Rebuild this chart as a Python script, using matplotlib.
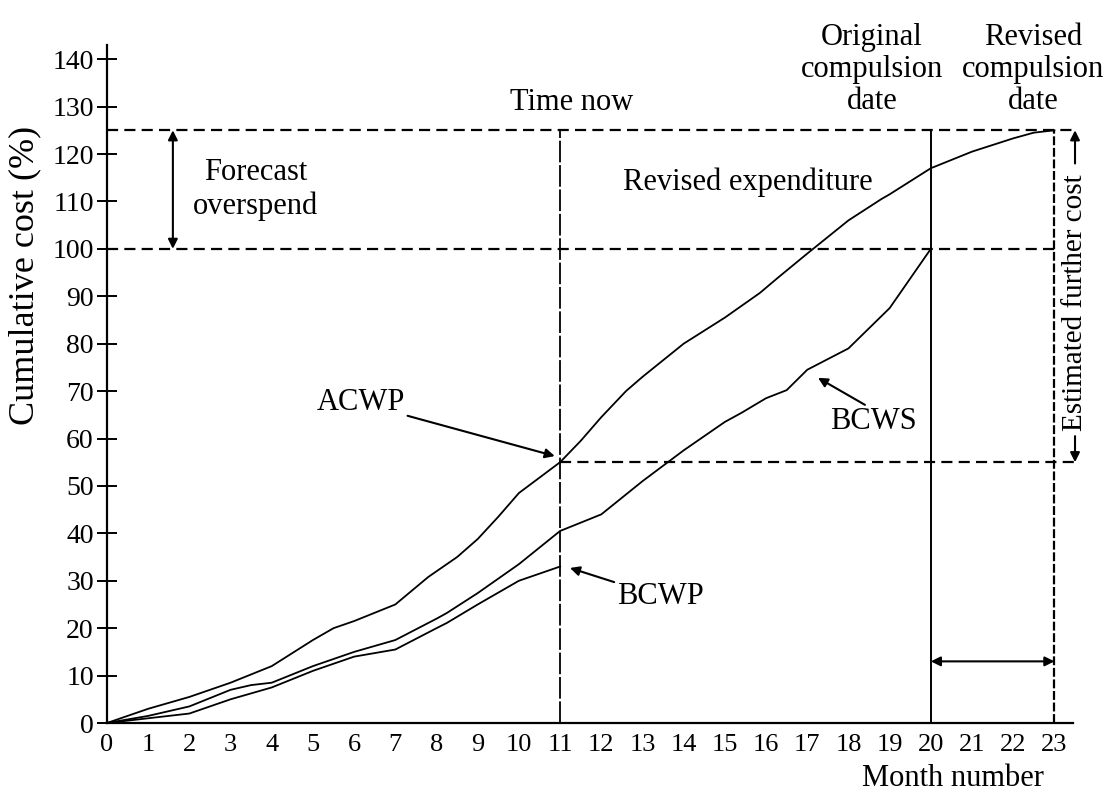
import numpy as np
import matplotlib.pyplot as plt

plt.rcParams['font.family'] = ['Liberation Serif', 'DejaVu Serif']

# cumulative cost curves, % of budget, by month
acwp_month = [0, 1, 2, 3, 4, 5, 5.5, 6, 7, 7.8, 8.5, 9, 9.5, 10, 11]
acwp_cost = [0, 3, 5.5, 8.5, 12, 17.5, 20, 21.5, 25, 30.8, 35, 38.8, 43.5, 48.5, 55]

revised_month = [11, 11.5, 12, 12.6, 13, 14, 15, 15.85, 16.3, 17, 18, 18.8, 19, 20, 21, 22, 22.5, 23]
revised_cost = [55, 59.5, 64.5, 70, 73, 80, 85.5, 90.7, 94, 99, 106, 110.5, 111.5, 117, 120.5, 123.3, 124.5, 125]

bcws_month = [0, 1, 2, 3, 3.5, 4, 5, 6, 7, 8, 8.25, 9, 10, 11, 12, 13, 14, 15, 15.4, 16, 16.5, 17, 18, 19, 20]
bcws_cost = [0, 1.5, 3.5, 7, 8, 8.5, 12, 15, 17.5, 22, 23.2, 27.4, 33.5, 40.5, 44, 51, 57.5, 63.5, 65.4, 68.5, 70.2, 74.5, 79, 87.5, 100]

bcwp_month = [0, 1, 2, 3, 4, 5, 6, 7, 8, 8.25, 9, 10, 11]
bcwp_cost = [0, 1, 2, 5, 7.5, 11, 14, 15.5, 20, 21.1, 25, 30, 33]

time_now = 11
original_end = 20
revised_end = 23
budget = 100
forecast_total = 125
spent_now = 55

fig = plt.figure(figsize=(11.2, 7.94), dpi=100)
ax = fig.add_axes([0.0955, 0.0894, 0.8625, 0.854])
ax.set_xlim(0, 23.45)
ax.set_ylim(0, 143)

for side in ('top', 'right'):
    ax.spines[side].set_visible(False)
for side in ('left', 'bottom'):
    ax.spines[side].set_linewidth(1.6)

ax.set_xticks(range(0, 24))
ax.set_yticks(range(0, 141, 10))
ax.tick_params(axis='x', length=0, labelsize=19, pad=8)
ax.tick_params(axis='y', direction='inout', length=15, width=1.4,
               labelsize=20, pad=2)

line_kw = dict(color='k', lw=1.3)
ax.plot(acwp_month, acwp_cost, **line_kw)
ax.plot(revised_month, revised_cost, **line_kw)
ax.plot(bcws_month, bcws_cost, **line_kw)
ax.plot(bcwp_month, bcwp_cost, **line_kw)

# reference lines
dash = dict(color='k', lw=1.6, linestyle=(0, (5, 2.8)))
ax.plot([0, 23.5], [forecast_total, forecast_total], clip_on=False, **dash)
ax.plot([0, revised_end], [budget, budget], **dash)
ax.plot([time_now, 23.5], [spent_now, spent_now], clip_on=False, **dash)

ax.plot([time_now, time_now], [0, forecast_total], color='k', lw=1.3,
        linestyle=(0, (12, 1.5)))
ax.plot([original_end, original_end], [0, forecast_total], color='k', lw=1.4)
ax.plot([revised_end, revised_end], [0, forecast_total], color='k', lw=1.6,
        linestyle=(0, (4, 1.2)))

arrow = dict(arrowstyle='-|>', color='k', lw=1.5, mutation_scale=14,
             shrinkA=0, shrinkB=0)
both = dict(arrowstyle='<|-|>', color='k', lw=1.5, mutation_scale=14,
            shrinkA=0, shrinkB=0)

# forecast overspend
ax.annotate('', xy=(1.6, forecast_total), xytext=(1.6, budget), arrowprops=both)
ax.text(3.6, 112.5, 'Forecast\noverspend', ha='center', va='center',
        fontsize=22, linespacing=1.2)

# extra months needed
ax.annotate('', xy=(original_end, 13), xytext=(revised_end, 13), arrowprops=both)

# estimated further cost, right-hand side
ax.annotate('', xy=(23.5, forecast_total), xytext=(23.5, 118),
            arrowprops=arrow, annotation_clip=False)
ax.annotate('', xy=(23.5, spent_now), xytext=(23.5, 60.5),
            arrowprops=arrow, annotation_clip=False)
ax.text(23.5, 88.6, 'Estimated further cost', rotation=90, ha='center',
        va='center', fontsize=21, clip_on=False)

ax.text(11.29, 130.8, 'Time now', ha='center', va='center', fontsize=22)
ax.text(15.56, 114, 'Revised expenditure', ha='center', va='center', fontsize=22)
ax.text(18.57, 137.8, 'Original\ncompulsion\ndate', ha='center', va='center',
        fontsize=22, linespacing=1.15)
ax.text(22.48, 137.8, 'Revised\ncompulsion\ndate', ha='center', va='center',
        fontsize=22, linespacing=1.15)

ax.annotate('ACWP', xy=(10.87, 56.3), xytext=(7.23, 67.5), ha='right',
            va='center', fontsize=22, arrowprops=arrow)
ax.annotate('BCWP', xy=(11.24, 32.7), xytext=(12.38, 26.6), ha='left',
            va='center', fontsize=22, arrowprops=arrow)
ax.annotate('', xy=(17.26, 72.8), xytext=(18.4, 67.1), arrowprops=arrow)
ax.text(17.55, 63.5, 'BCWS', ha='left', va='center', fontsize=22)

fig.text(25 / 1120, 1 - 275 / 794, 'Cumulative cost (%)', rotation=90,
         ha='center', va='center', fontsize=26)
fig.text(953 / 1120, 1 - 778 / 794, 'Month number', ha='center',
         va='center', fontsize=22)

fig.savefig('out.png', dpi=100)
